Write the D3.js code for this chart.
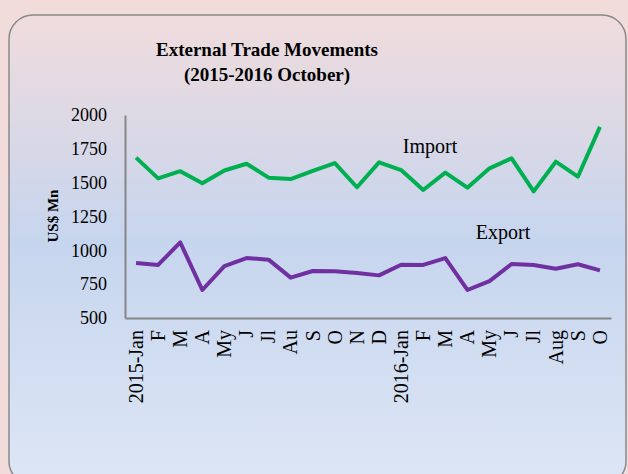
<!DOCTYPE html>
<html lang="en">
  <head>
    <meta charset="utf-8">
    <title>External Trade Movements</title>
    <script src="https://d3js.org/d3.v7.js"></script>
    <style>
      body { margin: 0; background: #f2dcdb; }
      text { font-family: "Liberation Serif", "DejaVu Serif", serif; fill: #000; }
    </style>
  </head>

  <body>
    <script>
      // chart data
      const months = ["2015-Jan", "F", "M", "A", "My", "J", "Jl", "Au", "S", "O", "N", "D",
        "2016-Jan", "F", "M", "A", "My", "J", "Jl", "Aug", "S", "O"];
      const importVals = [1685, 1532, 1585, 1495, 1590, 1640, 1537, 1527, 1588, 1645, 1466, 1650,
        1593, 1446, 1574, 1463, 1606, 1680, 1436, 1655, 1544, 1912];
      const exportVals = [906, 892, 1059, 707, 884, 943, 931, 798, 847, 845, 832, 815,
        894, 892, 943, 707, 773, 899, 892, 864, 897, 852];
      const yTicks = [500, 750, 1000, 1250, 1500, 1750, 2000];

      const w = 628;
      const h = 474;
      const margin = { top: 115, right: 17, bottom: 156, left: 125 };

      const svg = d3.select("body")
        .append("svg")
        .attr("width", w)
        .attr("height", h)
        .style("display", "block");

      const defs = svg.append("defs");
      const grad = defs.append("linearGradient")
        .attr("id", "bg")
        .attr("x1", 0).attr("y1", 0)
        .attr("x2", 0).attr("y2", 1);
      grad.append("stop").attr("offset", "0%").attr("stop-color", "#f0dcdd");
      grad.append("stop").attr("offset", "48%").attr("stop-color", "#c6d5ee");
      grad.append("stop").attr("offset", "100%").attr("stop-color", "#dde6f5");

      svg.append("rect")
        .attr("width", w)
        .attr("height", h)
        .attr("fill", "#f2dcdb");

      // rounded frame
      svg.append("rect")
        .attr("x", 9)
        .attr("y", 15)
        .attr("width", 617)
        .attr("height", 470)
        .attr("rx", 24)
        .attr("fill", "url(#bg)")
        .attr("stroke", "#898989")
        .attr("stroke-width", 1.5);

      // title
      const title = svg.append("text")
        .attr("text-anchor", "middle")
        .attr("font-weight", "bold")
        .attr("font-size", 19);
      title.append("tspan").attr("x", 267).attr("y", 56).text("External Trade Movements");
      title.append("tspan").attr("x", 267).attr("y", 81).text("(2015-2016 October)");

      const xScale = d3.scaleBand()
        .domain(d3.range(months.length))
        .range([margin.left, w - margin.right]);

      const yScale = d3.scaleLinear()
        .domain([500, 2000])
        .range([h - margin.bottom, margin.top]);

      const xAxis = d3.axisBottom(xScale)
        .tickSize(0)
        .tickSizeOuter(0)
        .tickFormat(i => months[i]);

      const yAxis = d3.axisLeft(yScale)
        .tickValues(yTicks)
        .tickFormat(d3.format("d"))
        .tickSize(0)
        .tickSizeOuter(0)
        .tickPadding(18);

      const gx = svg.append("g")
        .attr("transform", `translate(0, ${yScale(500)})`)
        .call(xAxis);
      gx.select(".domain").attr("stroke", "#868686").attr("stroke-width", 2);
      gx.selectAll("text")
        .attr("font-family", "'Liberation Serif', serif")
        .attr("font-size", 20)
        .attr("fill", "#000")
        .attr("text-anchor", "end")
        .attr("transform", "rotate(-90)")
        .attr("x", -12)
        .attr("y", 0)
        .attr("dy", "0.34em");

      const gy = svg.append("g")
        .attr("transform", `translate(${margin.left}, 0)`)
        .call(yAxis);
      gy.select(".domain").attr("stroke", "#868686").attr("stroke-width", 2);
      gy.selectAll("text")
        .attr("font-family", "'Liberation Serif', serif")
        .attr("font-size", 18)
        .attr("fill", "#000");

      // y axis title
      svg.append("text")
        .attr("transform", "translate(58, 216) rotate(-90)")
        .attr("text-anchor", "middle")
        .attr("font-weight", "bold")
        .attr("font-size", 15)
        .text("US$ Mn");

      const line = d3.line()
        .x((d, i) => xScale(i) + xScale.bandwidth() / 2)
        .y(d => yScale(d));

      svg.append("path")
        .datum(importVals)
        .attr("d", line)
        .attr("fill", "none")
        .attr("stroke", "#00b050")
        .attr("stroke-width", 4)
        .attr("stroke-linejoin", "round");

      svg.append("path")
        .datum(exportVals)
        .attr("d", line)
        .attr("fill", "none")
        .attr("stroke", "#7030a0")
        .attr("stroke-width", 4)
        .attr("stroke-linejoin", "round");

      // series labels
      svg.append("text")
        .attr("x", 430)
        .attr("y", 153)
        .attr("text-anchor", "middle")
        .attr("font-size", 20)
        .text("Import");

      svg.append("text")
        .attr("x", 503)
        .attr("y", 239)
        .attr("text-anchor", "middle")
        .attr("font-size", 20)
        .text("Export");
    </script>
  </body>
</html>
